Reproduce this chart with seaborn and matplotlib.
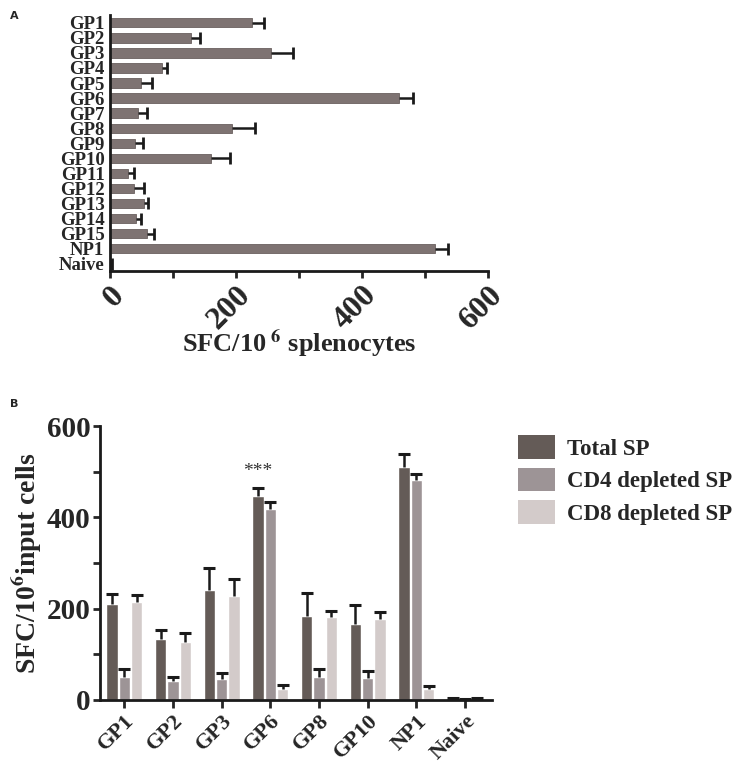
import numpy as np
import pandas as pd
import matplotlib
matplotlib.use('Agg')
import matplotlib.pyplot as plt
from matplotlib.patches import Patch
from matplotlib.ticker import MultipleLocator
import seaborn as sns

# panel A - peptide screening
peptides_a = ['GP1', 'GP2', 'GP3', 'GP4', 'GP5', 'GP6', 'GP7', 'GP8', 'GP9',
              'GP10', 'GP11', 'GP12', 'GP13', 'GP14', 'GP15', 'NP1', 'Naive']
sfc_a = [225, 128, 256, 83, 50, 459, 45, 194, 40, 161, 28, 38, 54, 41, 58, 516, 2]
sem_a = [19, 15, 35, 8, 17, 22, 13, 36, 13, 29, 10, 16, 7, 8, 12, 20, 1]

# panel B - depletion experiment
peptides_b = ['GP1', 'GP2', 'GP3', 'GP6', 'GP8', 'GP10', 'NP1', 'Naive']
groups_b = ['Total SP', 'CD4 depleted SP', 'CD8 depleted SP']
total_sp = [211, 134, 241, 447, 185, 167, 511, 4]
total_sem = [22, 19, 47, 18, 49, 40, 28, 1]
cd4_sp = [51, 42, 45, 419, 51, 48, 481, 2]
cd4_sem = [17, 9, 13, 15, 17, 15, 13, 0.5]
cd8_sp = [214, 128, 227, 25, 181, 177, 23, 3]
cd8_sem = [16, 18, 38, 8, 14, 15, 7, 0.5]

bar_a = '#7e7372'
colors_b = ['#645b57', '#9d9496', '#d3cbca']
err_col = '#1a1a1a'

sns.set_style('ticks')
plt.rcParams['font.family'] = ['Liberation Serif', 'DejaVu Serif']
plt.rcParams['font.weight'] = 'bold'
plt.rcParams['mathtext.fontset'] = 'stix'
plt.rcParams['axes.linewidth'] = 2
plt.rcParams['axes.edgecolor'] = err_col

fig = plt.figure(figsize=(7.43, 7.64), dpi=100)

# ---------- A ----------
ax1 = fig.add_axes([0.148, 0.645, 0.509, 0.335])
df_a = pd.DataFrame({'peptide': peptides_a, 'sfc': sfc_a})
sns.barplot(data=df_a, x='sfc', y='peptide', orient='h', color=bar_a,
            width=0.62, saturation=1, edgecolor='#6a605f', linewidth=0.6, ax=ax1)
# one-sided error bars (upper side only, cap at the tip)
for p, e in zip(ax1.patches, sem_a):
    yc = p.get_y() + p.get_height() / 2
    tip = p.get_width() + e
    ax1.errorbar(p.get_width(), yc, xerr=[[0], [e]], fmt='none', ecolor=err_col,
                 elinewidth=1.8, capsize=0)
    ax1.plot(tip, yc, marker='|', ms=8, mew=2, color=err_col)
ax1.set_xlim(0, 600)
ax1.set_ylim(16.5, -0.5)
ax1.xaxis.set_major_locator(MultipleLocator(200))
ax1.xaxis.set_minor_locator(MultipleLocator(100))
ax1.tick_params(axis='x', which='both', direction='out', length=5, width=2, pad=2)
ax1.tick_params(axis='y', length=0, pad=4, labelsize=13.5)
for lab in ax1.get_xticklabels():
    lab.set_rotation(45)
    lab.set_ha('right')
    lab.set_va('top')
    lab.set_rotation_mode('anchor')
    lab.set_fontsize(23)
    lab.set_fontweight('heavy')
for lab in ax1.get_yticklabels():
    lab.set_fontweight('bold')
ax1.set_ylabel('')
ax1.set_xlabel(r'SFC/10$^{\mathbf{\ 6}}$ splenocytes', fontsize=19, fontweight='bold', labelpad=-6)
sns.despine(ax=ax1)
fig.text(0.013, 0.985, 'A', family='DejaVu Sans', fontsize=8, fontweight='bold', va='top')

# ---------- B ----------
ax2 = fig.add_axes([0.1346, 0.0838, 0.528, 0.3586])
df_b = pd.DataFrame({
    'peptide': peptides_b * 3,
    'group': [g for g in groups_b for _ in peptides_b],
    'sfc': total_sp + cd4_sp + cd8_sp,
})
sns.barplot(data=df_b, x='peptide', y='sfc', hue='group', palette=colors_b,
            width=0.76, gap=0.08, saturation=1, legend=False, ax=ax2)
errs_b = total_sem + cd4_sem + cd8_sem
for p, e in zip(ax2.patches, errs_b):
    xc = p.get_x() + p.get_width() / 2
    tip = p.get_height() + e
    ax2.errorbar(xc, p.get_height(), yerr=[[0], [e]], fmt='none', ecolor=err_col,
                 elinewidth=1.8, capsize=0)
    ax2.plot(xc, tip, marker='_', ms=8, mew=2.2, color=err_col)
gp6 = ax2.patches[peptides_b.index('GP6')]
ax2.text(gp6.get_x() + gp6.get_width() / 2, 482, '***', ha='center', va='bottom',
         fontsize=14, fontweight='normal', color='#333333')
ax2.set_xlim(-0.5, 7.56)
ax2.set_ylim(0, 600)
ax2.yaxis.set_major_locator(MultipleLocator(200))
ax2.yaxis.set_minor_locator(MultipleLocator(100))
ax2.tick_params(axis='y', which='both', direction='out', length=5, width=2, pad=2, labelsize=21)
ax2.tick_params(axis='x', direction='out', length=6, width=2, pad=2, labelsize=16)
for lab in ax2.get_xticklabels():
    lab.set_rotation(45)
    lab.set_ha('right')
    lab.set_va('top')
    lab.set_rotation_mode('anchor')
    lab.set_fontweight('bold')
for lab in ax2.get_yticklabels():
    lab.set_fontweight('bold')
ax2.set_xlabel('')
ax2.set_ylabel(r'SFC/10$^{\mathbf{6}}$input cells', fontsize=20, fontweight='bold', labelpad=2)
sns.despine(ax=ax2)
fig.text(0.013, 0.478, 'B', family='DejaVu Sans', fontsize=8, va='top')

handles = [Patch(facecolor=c, edgecolor='none') for c in colors_b]
fig.legend(handles, groups_b, loc='upper left', bbox_to_anchor=(0.67, 0.457),
           frameon=False, prop={'family': 'Liberation Serif', 'weight': 'bold', 'size': 16.5},
           handlelength=1.6, handleheight=1.2, handletextpad=0.5, labelspacing=0.35)

fig.savefig('out.png', dpi=100)
